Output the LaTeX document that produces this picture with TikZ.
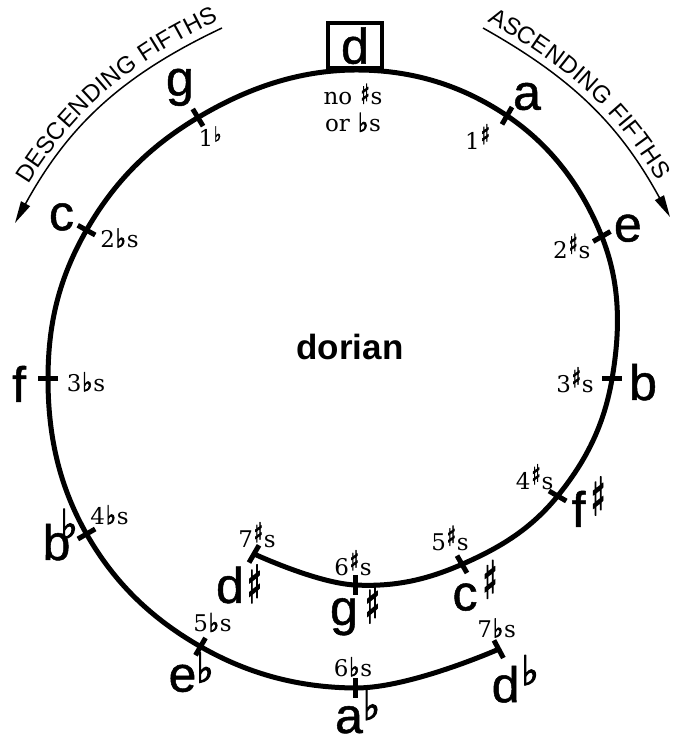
\documentclass[tikz,border=0pt]{standalone}
\usepackage{fontspec}
\usepackage{graphicx}
\newfontfamily\notefont{Liberation Sans}[FakeBold=1]
\newfontfamily\capsfamily{Liberation Sans}
\newfontfamily\countfont{DejaVu Serif}
\newfontfamily\symfont{DejaVu Sans}
\newfontfamily\accfont{DejaVu Sans}[FakeBold=3]
\usetikzlibrary{arrows.meta,calc,decorations.text}

% accidentals: [kern]{raise}
\newcommand{\bigsharp}[2][5pt]{\rlap{\kern#1\raisebox{#2}{\resizebox{15pt}{38pt}{\raisebox{\depth}{\accfont ♯}}}}}
\newcommand{\bigflat}[2][0pt]{\rlap{\kern#1\raisebox{#2}{\resizebox{17pt}{30pt}{\raisebox{\depth}{\accfont ♭}}}}}
\newcommand{\smallsharp}[1][5pt]{\kern1pt\raisebox{#1}{\resizebox{9pt}{20pt}{\raisebox{\depth}{\accfont ♯}}}\kern1pt}
\newcommand{\smallflat}{\kern1pt\resizebox{10pt}{19pt}{\raisebox{\depth}{\accfont ♭}}\kern1pt}
\newcommand{\supflat}{\kern1pt\raisebox{5pt}{\resizebox{7pt}{15pt}{\raisebox{\depth}{\accfont ♭}}}}
\newcommand{\capsfont}{\capsfamily\fontsize{24}{24}\selectfont}

\tikzset{
  note/.style={font=\notefont\fontsize{50}{50}\selectfont,inner sep=0pt,anchor=base},
  count/.style={font=\countfont\fontsize{23}{27}\selectfont,inner sep=0pt,align=center},
  keybox/.style={draw,line width=3.5pt,minimum width=54pt,minimum height=45pt,inner sep=0pt,
    anchor=south,font=\notefont\fontsize{50}{50}\selectfont},
  mode/.style={font=\capsfamily\bfseries\fontsize{35}{35}\selectfont},
  spiral/.style={line width=5pt},
  notch/.style={line width=5pt},
  fifths/.style={line width=1.5pt,-{Triangle[length=22pt,width=10pt]}},
  fifthtext/.style 2 args={decorate,decoration={text along path,text align={#1},raise=8pt,
    text={|\capsfont|#2}}}
}

\begin{document}
\begin{tikzpicture}[x=1pt,y=1pt]
  \useasboundingbox (0,0) rectangle (673,741);
  \coordinate (o) at (355,362);
  \coordinate (d) at ([shift={(90:309)}]o);
  % the fifths round the spiral, with their notches
  \foreach \n/\a/\r in {dsh/-120/202,gsh/-90/206,csh/-60/214,fsh/-30/234,b/0/257,e/30/285,
      a/60/304,g/121/305,c/151/307,f/180/307,bb/210/310,eb/240/309,ab/270/309,db/298/306}{
    \coordinate (\n) at ([shift={(\a:\r)}]o);
    \draw[notch] ($(\n)!10pt!(o)$) -- ($(\n)!-10pt!(o)$);
  }
  \draw[spiral] plot[smooth,tension=0.66] coordinates {(dsh) (gsh) (csh) (fsh) (b) (e) (a) (d)
    (g) (c) (f) (bb) (eb) (ab) (db)};

  \node[keybox] (nd) at (d) {d};
  \node[count] (kd) at ([shift={(-2,-38)}]d) {no \smallsharp[1pt]s\\or \smallflat s};

  % sharp side
  \node[note] (na) at ([shift={(20,6)}]a) {a};
  \node[note] (ne) at ([shift={(26,-5)}]e) {e};
  \node[note] (nb) at ([shift={(31,-21)}]b) {b};
  \node[note] (nfsh) at ([shift={(21,-31)}]fsh) {f\bigsharp{12pt}};
  \node[note] (ncsh) at ([shift={(3,-46)}]csh) {c\bigsharp{12pt}};
  \node[note] (ngsh) at ([shift={(-11,-40)}]gsh) {g\bigsharp[7pt]{2pt}};
  \node[note] (ndsh) at ([shift={(-24,-49)}]dsh) {d\bigsharp[3pt]{0pt}};
  \node[count] (ka) at ([shift={(-29,-21)}]a) {1\smallsharp};
  \node[count] (ke) at ([shift={(-30,-10)}]e) {2\smallsharp s};
  \node[count] (kb) at ([shift={(-37,-1)}]b) {3\smallsharp s};
  \node[count] (kfsh) at ([shift={(-23,19)}]fsh) {4\smallsharp s};
  \node[count] (kcsh) at ([shift={(-12,26)}]csh) {5\smallsharp s};
  \node[count] (kgsh) at ([shift={(-2,22)}]gsh) {6\smallsharp s};
  \node[count] (kdsh) at ([shift={(3,19)}]dsh) {7\smallsharp s};

  % flat side
  \node[note] (ng) at ([shift={(-18,22)}]g) {g};
  \node[note] (nc) at ([shift={(-25,0)}]c) {c};
  \node[note] (nf) at ([shift={(-29,-23)}]f) {f};
  \node[note] (nbb) at ([shift={(-30,-26)}]bb) {b\bigflat[-10pt]{21pt}};
  \node[note] (neb) at ([shift={(-18,-45)}]eb) {e\bigflat{9pt}};
  \node[note] (nab) at ([shift={(-6,-45)}]ab) {a\bigflat{13pt}};
  \node[note] (ndb) at ([shift={(7,-53)}]db) {d\bigflat[2pt]{17pt}};
  \node[count] (kg) at ([shift={(12,-19)}]g) {1\supflat};
  \node[count] (kc) at ([shift={(33,-8)}]c) {2\smallflat s};
  \node[count] (kf) at ([shift={(38,-3)}]f) {3\smallflat s};
  \node[count] (kbb) at ([shift={(23,19)}]bb) {4\smallflat s};
  \node[count] (keb) at ([shift={(12,24)}]eb) {5\smallflat s};
  \node[count] (kab) at ([shift={(-2,21)}]ab) {6\smallflat s};
  \node[count] (kdb) at ([shift={(-2,21)}]db) {7\smallflat s};

  \node[mode] (mode) at ([shift={(-5,32)}]o) {dorian};

  % direction arrows
  \coordinate (descA) at (222,713);
  \coordinate (descB) at (15,518);
  \coordinate (ascA) at (483,713);
  \coordinate (ascB) at (670,524);
  \draw[fifths] (descA) to[bend right=18] (descB);
  \path[fifthtext={right,right indent=0pt}{DESCENDING FIFTHS}] (descB) to[bend left=18] (descA);
  \draw[fifths] (ascA) to[bend left=16] (ascB);
  \path[fifthtext={left,left indent=0pt}{ASCENDING FIFTHS}] (ascA) to[bend left=16] (ascB);
\end{tikzpicture}
\end{document}
